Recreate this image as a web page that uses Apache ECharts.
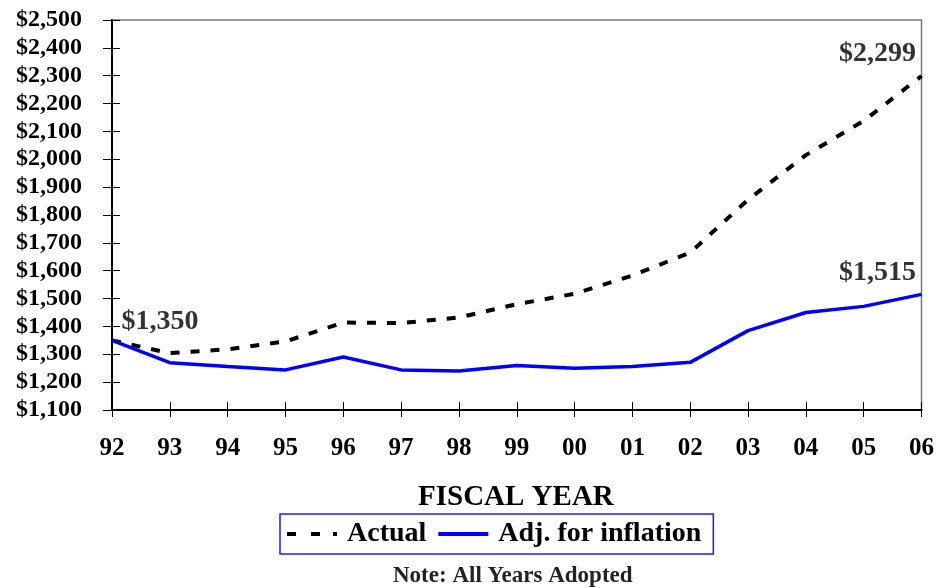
<!DOCTYPE html>
<html><head><meta charset="utf-8">
<script src="https://cdn.jsdelivr.net/npm/echarts@6/dist/echarts.min.js"></script>
<style>html,body{margin:0;padding:0;background:#fff}#c{width:937px;height:588px}</style>
</head><body><div id="c"></div>
<script>
const years = ['92','93','94','95','96','97','98','99','00','01','02','03','04','05','06'];
const actual = [1350,1304,1318,1346,1414,1412,1432,1480,1517,1583,1665,1855,2015,2138,2299];
const adjusted = [1350,1270,1256,1244,1290,1244,1240,1260,1250,1256,1271,1385,1450,1472,1515];
const labelled = [
  {series: 'adjusted', index: 0},
  {series: 'adjusted', index: 14},
  {series: 'actual', index: 14}
];
const yMin = 1100, yMax = 2500, yStep = 100;
const F = '"Liberation Serif", "Times New Roman", serif';
const fmt = v => '$' + v.toLocaleString('en-US');
const src = {actual, adjusted};

const labelData = labelled.map(l => {
  const v = src[l.series][l.index];
  const first = l.index === 0;
  return {
    value: [l.index, v],
    label: {offset: first ? [48, 0] : [-44, -3]}
  };
});

const chart = echarts.init(document.getElementById('c'), null, {renderer:'canvas'});
chart.setOption({
  animation: false,
  textStyle: {fontFamily: F},
  grid: {left: 112, right: 15, top: 20, bottom: 178, show: true, borderColor: '#777', borderWidth: 1.5},
  title: [
    {text: 'FISCAL YEAR', left: 418, top: 483, padding: 0, textStyle: {fontFamily: F, fontWeight: 'bold', fontSize: 29, color: '#000'}},
    {text: 'Note: All Years Adopted', left: 393, top: 565, padding: 0, textStyle: {fontFamily: F, fontWeight: 'bold', fontSize: 23, color: '#222'}}
  ],
  legend: {
    top: 514, left: 280, itemWidth: 50, itemHeight: 4, itemGap: 12,
    borderColor: '#1a1aff', borderWidth: 1.5, padding: [6, 12, 6, 7],
    textStyle: {fontFamily: F, fontWeight: 'bold', fontSize: 28, color: '#000', padding: [0, 0, 0, 5]},
    data: [
      {name: 'Actual', icon: 'path://M0,0h9v4h-9z M24,0h9v4h-9z M46,0h4v4h-4z', itemStyle: {color: '#000'}},
      {name: 'Adj. for inflation', icon: 'path://M0,0h50v4h-50z', itemStyle: {color: '#0000ff'}}
    ]
  },
  xAxis: [
    {type: 'category', data: years, boundaryGap: false,
     axisLine: {lineStyle: {color: '#000', width: 2}},
     axisTick: {show: true, length: 7, lineStyle: {color: '#000', width: 1}},
     axisLabel: {margin: 26, fontFamily: F, fontWeight: 'bold', fontSize: 25, color: '#000', interval: 0},
     splitLine: {show: false}},
    {type: 'category', data: years, boundaryGap: false, position: 'bottom',
     axisLine: {show: false}, axisLabel: {show: false},
     axisTick: {show: true, inside: true, length: 8, lineStyle: {color: '#000', width: 1}}}
  ],
  yAxis: [
    {type: 'value', min: yMin, max: yMax, interval: yStep,
     axisLine: {show: true, lineStyle: {color: '#000', width: 2}},
     axisTick: {show: true, length: 9, lineStyle: {color: '#000', width: 1}},
     axisLabel: {margin: 30, fontFamily: F, fontWeight: 'bold', fontSize: 24, color: '#000', formatter: fmt},
     splitLine: {show: false}},
    {type: 'value', min: yMin, max: yMax, interval: yStep, position: 'left',
     axisLine: {show: false}, axisLabel: {show: false}, splitLine: {show: false},
     axisTick: {show: true, inside: true, length: 8, lineStyle: {color: '#000', width: 1}}}
  ],
  series: [
    {name: 'Actual', type: 'line', data: actual, symbol: 'none', z: 3,
     itemStyle: {color: '#000'},
     lineStyle: {color: '#000', width: 4, type: [9, 11]}},
    {name: 'Adj. for inflation', type: 'line', data: adjusted, symbol: 'none', z: 4,
     itemStyle: {color: '#0000ff'},
     lineStyle: {color: '#0000ff', width: 3.5}},
    {name: 'labels', type: 'scatter', data: labelData, symbolSize: 0, z: 5, silent: true,
     itemStyle: {opacity: 1},
     label: {show: true, position: 'top', distance: 5, fontFamily: F, fontWeight: 'bold', fontSize: 28, color: '#333', opacity: 1,
             formatter: p => fmt(p.value[1])}}
  ]
});
</script></body></html>
